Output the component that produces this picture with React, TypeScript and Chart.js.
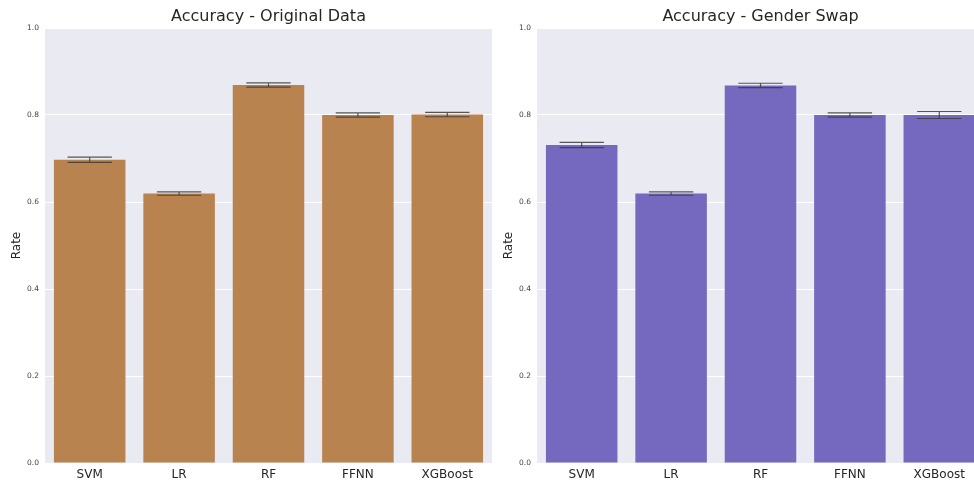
import React, { useEffect, useRef } from "react";
import { Chart, registerables } from "chart.js";

Chart.register(...registerables);

const categories = ["SVM", "LR", "RF", "FFNN", "XGBoost"];
const yTicks = [0, 0.2, 0.4, 0.6, 0.8, 1.0];

const originalValues = [0.697, 0.6195, 0.869, 0.8, 0.801];
const originalErrors = [0.006, 0.004, 0.005, 0.005, 0.005];

const swapValues = [0.731, 0.6195, 0.868, 0.8, 0.8];
const swapErrors = [0.006, 0.004, 0.005, 0.005, 0.008];

const FONT = "'DejaVu Sans', sans-serif";

type PanelProps = {
  title: string;
  values: number[];
  errors: number[];
  color: string;
  left: number;
};

function Panel({ title, values, errors, color, left }: PanelProps) {
  const ref = useRef<HTMLCanvasElement | null>(null);
  useEffect(() => {
    if (!ref.current) return;
    const bgPlugin = {
      id: "bg",
      beforeDraw(chart: any) {
        const { ctx, chartArea } = chart;
        ctx.save();
        ctx.fillStyle = "#eaeaf2";
        ctx.fillRect(chartArea.left, chartArea.top, chartArea.right - chartArea.left, chartArea.bottom - chartArea.top);
        ctx.restore();
      },
    };
    const titlePlugin = {
      id: "ctitle",
      afterDraw(chart: any) {
        const { ctx, chartArea } = chart;
        ctx.save();
        ctx.fillStyle = "#262626";
        ctx.font = `16px ${FONT}`;
        ctx.textAlign = "center";
        ctx.textBaseline = "middle";
        ctx.fillText(title, (chartArea.left + chartArea.right) / 2, 17);
        ctx.restore();
      },
    };
    const errPlugin = {
      id: "err",
      afterDatasetsDraw(chart: any) {
        const { ctx } = chart;
        const y = chart.scales.y;
        const meta = chart.getDatasetMeta(0);
        ctx.save();
        ctx.strokeStyle = "rgba(60,60,60,0.85)";
        ctx.lineWidth = 1.2;
        meta.data.forEach((bar: any, i: number) => {
          const x = bar.x;
          const half = bar.width * 0.31;
          const yLo = y.getPixelForValue(values[i] - errors[i]);
          const yHi = y.getPixelForValue(values[i] + errors[i]);
          ctx.beginPath();
          ctx.moveTo(x, yLo);
          ctx.lineTo(x, yHi);
          ctx.moveTo(x - half, yLo);
          ctx.lineTo(x + half, yLo);
          ctx.moveTo(x - half, yHi);
          ctx.lineTo(x + half, yHi);
          ctx.stroke();
        });
        ctx.restore();
      },
    };
    const chart = new Chart(ref.current, {
      type: "bar",
      data: {
        labels: categories,
        datasets: [
          {
            data: values,
            backgroundColor: color,
            borderWidth: 0,
            barPercentage: 0.8,
            categoryPercentage: 1.0,
          },
        ],
      },
      options: {
        animation: false,
        responsive: false,
        devicePixelRatio: 1,
        layout: { padding: { top: 28, left: 0, right: 0, bottom: 0 } },
        plugins: {
          legend: { display: false },
          tooltip: { enabled: false },
          title: { display: false },
        },
        scales: {
          x: {
            grid: { display: false, drawTicks: false },
            border: { display: false },
            ticks: { color: "#262626", font: { family: FONT, size: 12 }, padding: 5 },
            afterFit(scale: any) {
              scale.height = 21;
            },
          },
          y: {
            min: 0,
            max: 1,
            afterBuildTicks(scale: any) {
              scale.ticks = yTicks.map((v) => ({ value: v }));
            },
            grid: { color: "#ffffff", lineWidth: 1, drawTicks: false },
            border: { display: false },
            ticks: {
              color: "#444444",
              font: { family: FONT, size: 7.5 },
              padding: 6,
              callback: (v: any) => Number(v).toFixed(1),
            },
            title: {
              display: true,
              text: "Rate",
              color: "#262626",
              font: { family: FONT, size: 12 },
              padding: { top: 10, bottom: 0 },
            },
            afterFit(scale: any) {
              scale.width = 45;
            },
          },
        },
      },
      plugins: [bgPlugin, errPlugin, titlePlugin],
    } as any);
    return () => chart.destroy();
  }, [title, values, errors, color]);
  return (
    <canvas
      ref={ref}
      width={492}
      height={484}
      style={{ position: "absolute", left, top: 0, width: 492, height: 484 }}
    />
  );
}

export default function App() {
  return (
    <div
      style={{
        position: "absolute",
        left: 0,
        top: 0,
        width: 974,
        height: 484,
        overflow: "hidden",
        background: "#ffffff",
      }}
    >
      <Panel title="Accuracy - Original Data" values={originalValues} errors={originalErrors} color="#b9834f" left={0} />
      <Panel title="Accuracy - Gender Swap" values={swapValues} errors={swapErrors} color="#7469be" left={492} />
    </div>
  );
}
